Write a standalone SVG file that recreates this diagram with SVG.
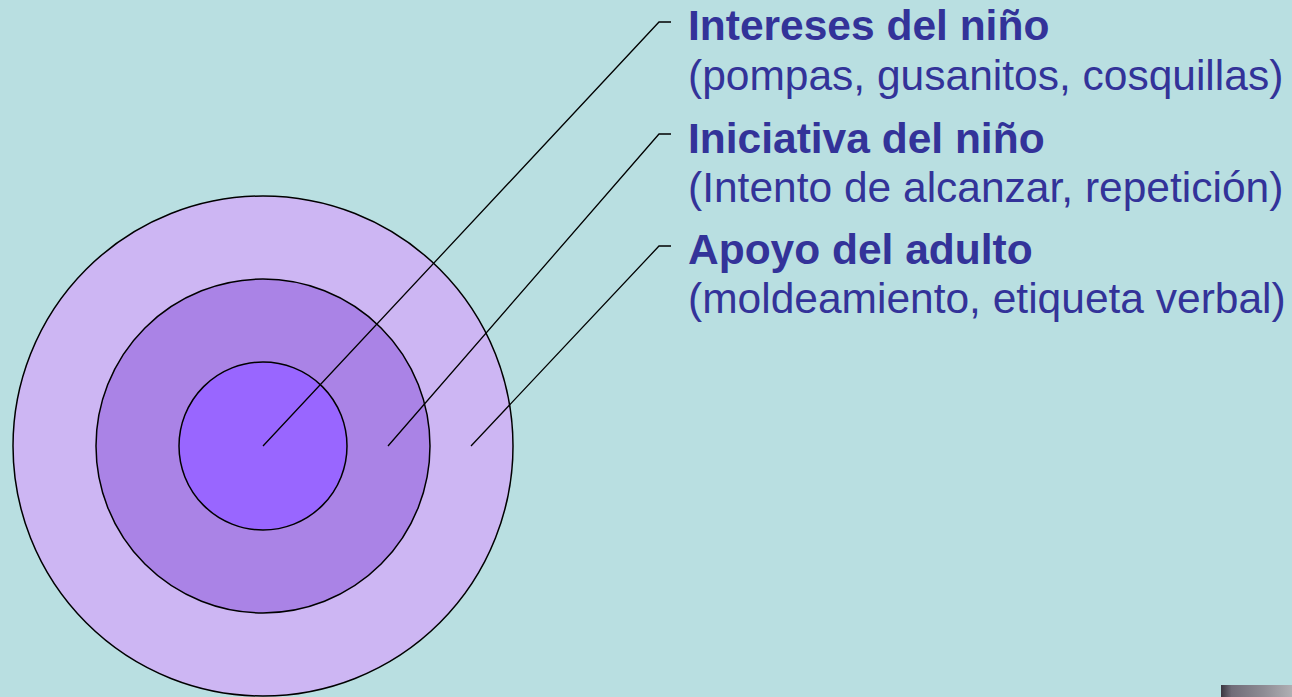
<svg xmlns="http://www.w3.org/2000/svg" width="1292" height="697" viewBox="0 0 1292 697">
<defs>
<style>
.ring{stroke:#000;stroke-width:1.5}
.t{font-family:"Liberation Sans",Arial,sans-serif;font-size:42.5px;fill:#333399}
.b{font-weight:bold}
.c{fill:none;stroke:#000;stroke-width:1.3}
</style>
<linearGradient id="g" x1="0" y1="0" x2="1" y2="0">
<stop offset="0" stop-color="#3a3640"/>
<stop offset="0.15" stop-color="#706c78"/>
<stop offset="0.6" stop-color="#8e8c94"/>
<stop offset="1" stop-color="#b0b0b4"/>
</linearGradient>
</defs>
<rect width="1292" height="697" fill="#B9DFE1"/>
<g id="outer"><circle class="ring" cx="263" cy="446" r="250" fill="#CDB6F3"/></g>
<g id="middle"><circle class="ring" cx="263" cy="446" r="167" fill="#AA83E6"/></g>
<g id="inner"><circle class="ring" cx="263" cy="446" r="84" fill="#9966FF"/></g>
<g id="connectors">
<polyline class="c" points="263,446 659,22 671,22"/>
<polyline class="c" points="388,446 659,134 671,134"/>
<polyline class="c" points="471,446 659,246 671,246"/>
</g>
<g id="label1">
<text class="t b" x="688" y="39.5">Intereses del niño</text>
<text class="t" x="688" y="89.5">(pompas, gusanitos, cosquillas)</text>
</g>
<g id="label2">
<text class="t b" x="688" y="152.5">Iniciativa del niño</text>
<text class="t" x="688" y="201.5">(Intento de alcanzar, repetición)</text>
</g>
<g id="label3">
<text class="t b" x="688" y="263.5">Apoyo del adulto</text>
<text class="t" x="688" y="313">(moldeamiento, etiqueta verbal)</text>
</g>
<rect x="1221" y="685" width="71" height="12" fill="url(#g)"/>
</svg>
